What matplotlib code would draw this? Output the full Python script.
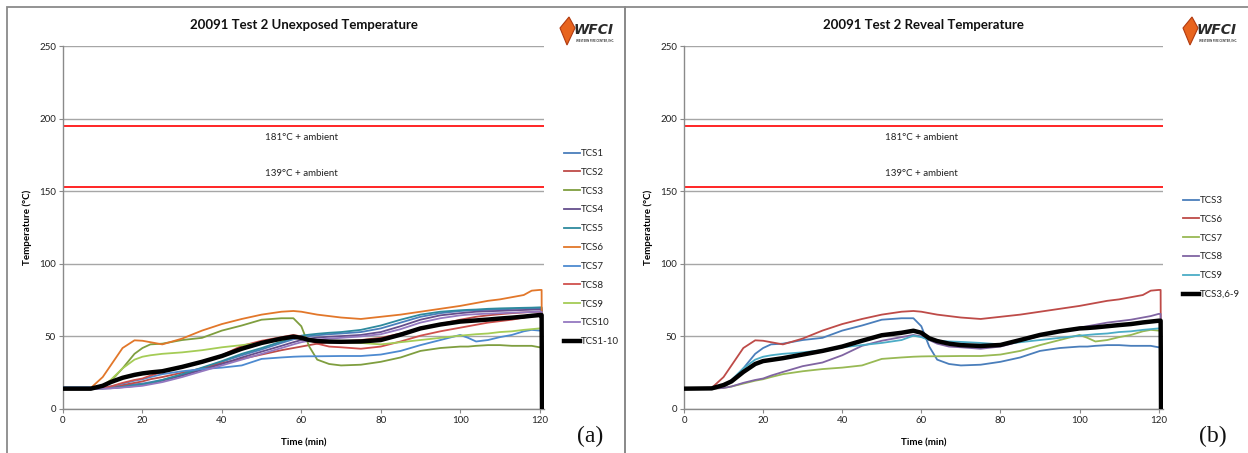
import matplotlib
matplotlib.use("Agg")
import matplotlib.pyplot as plt
from matplotlib.patches import Rectangle, Polygon

plt.rcParams['font.family'] = ['Lato', 'DejaVu Sans']

# ---------------- data ----------------
time_min = [0, 7, 10, 12, 15, 18, 20, 22, 25, 30, 35, 40, 45, 50, 55, 58, 60, 62, 64, 67, 70,
            75, 80, 85, 90, 95, 100, 102, 104, 107, 110, 113, 116, 118, 120, 120.5, 120.6]

tcs1 = [15, 15, 15.2, 15.4, 16, 17, 17.5, 18.5, 20, 23.5, 28, 32.5, 37, 41, 45.5, 48, 49.5, 50.2, 50.8, 51.5, 52,
        53, 55.5, 59.5, 63.5, 66, 67.5, 67.8, 68, 68.3, 68.6, 68.9, 69.2, 69.4, 69.5, 69.5, 0]
tcs2 = [14, 14, 14.3, 15, 16.5, 18, 19, 20.5, 22, 25, 28, 31.5, 34.5, 37.5, 40.5, 42, 43, 44, 45, 46, 46.5,
        47.5, 49, 52, 55.5, 58.5, 61.5, 62.5, 63.5, 64.5, 65.3, 66, 66.5, 66.8, 67, 67, 0]
tcs3 = [14, 14, 15, 19, 28, 38, 42, 44.5, 45, 47.5, 49, 54, 57.5, 61.5, 62.5, 62.5, 57, 43, 34, 31, 30,
        30.5, 32.5, 35.5, 40, 42, 43, 43, 43.5, 44, 44, 43.5, 43.5, 43.5, 42.5, 43, 0]
tcs4 = [14, 14, 14.1, 14.3, 15, 15.8, 16.5, 17.5, 19.5, 23, 27, 31, 35.5, 39.5, 43.5, 46, 47.5, 48.5, 49.2, 49.8, 50.2,
        51, 53, 57, 61.5, 64.5, 66, 66.5, 67, 67.3, 67.6, 67.9, 68.2, 68.4, 68.5, 68.5, 0]
tcs5 = [14, 14, 14.2, 14.5, 15.2, 16.2, 17, 18, 20, 24, 28.5, 33, 38, 42, 46.5, 49, 50.5, 51.2, 51.8, 52.5, 53,
        54.5, 57.5, 61.5, 65, 67, 68, 68.3, 68.5, 69, 69.3, 69.5, 69.7, 69.8, 70, 70, 0]
tcs6 = [14, 14.5, 22, 30, 42, 47.3, 47, 46, 44.5, 48.5, 54, 58.5, 62, 65, 67, 67.5, 67, 66, 65, 64, 63,
        62, 63.5, 65, 67, 69, 71, 72, 73, 74.5, 75.5, 77, 78.5, 81.5, 82, 82, 0]
tcs7 = [14, 14, 14.5, 15.5, 17.5, 19.5, 20.5, 22, 24, 26, 27.5, 28.5, 30, 34.5, 35.5, 36, 36.2, 36.3, 36.3, 36.4, 36.5,
        36.5, 37.5, 40, 44, 47.5, 51, 49, 46.5, 47.5, 49.5, 51, 53.5, 54.5, 54, 54.5, 0]
tcs8 = [14, 14, 14.5, 15.5, 18, 20, 21, 23, 25.5, 29.5, 32, 37, 43.5, 47, 49.5, 51, 50, 47.5, 45, 43, 42.5,
        41.5, 43, 46.5, 50.5, 53.5, 56, 57, 58, 59.5, 60.5, 61.5, 63, 64, 65.5, 65.5, 0]
tcs9 = [14, 14, 16, 20, 28, 34, 36, 37, 38, 39, 40.5, 42.5, 44, 45.5, 47.5, 50.5, 49.5, 47.5, 47, 46.5, 46.2,
        45.5, 44.5, 46, 47.5, 49, 50.5, 51, 51.5, 52, 53, 53.5, 54.5, 55, 55.5, 55.5, 0]
tcs10 = [14, 14, 14.1, 14.2, 14.8, 15.5, 16, 17, 18.5, 22, 26, 30, 34, 38, 42, 44.5, 46, 47, 47.8, 48.5, 49,
         50, 51.5, 55, 59.5, 62.5, 64.5, 65, 65.3, 65.7, 66, 66.3, 66.6, 66.8, 67, 67, 0]
avg_1_10 = [14, 14, 16, 18.5, 21.5, 23.5, 24.5, 25.2, 26, 29, 32.5, 36.5, 41.5, 45.5, 48.5, 49.8, 49, 47.5, 46.8, 46.4, 46.3,
            46.5, 47.5, 51.2, 55.5, 58.2, 60.2, 60.6, 61, 61.6, 62.3, 62.9, 63.6, 64.2, 64.7, 64.7, 0]
avg_3_6_9 = [14, 14.2, 16.5, 19, 25.5, 31, 33, 33.8, 35, 37.5, 40, 43, 47, 50.8, 52.5, 53.9, 52.5, 48.7, 46.8, 45, 44,
             43.4, 44.1, 47.5, 51, 53.5, 55.5, 55.8, 56.2, 57, 57.8, 58.5, 59.6, 60.2, 60.8, 60.8, 0]

limit_181 = 195
limit_139 = 153

left_labels = ['TCS1', 'TCS2', 'TCS3', 'TCS4', 'TCS5', 'TCS6', 'TCS7', 'TCS8', 'TCS9', 'TCS10', 'TCS1-10']
left_series = [tcs1, tcs2, tcs3, tcs4, tcs5, tcs6, tcs7, tcs8, tcs9, tcs10, avg_1_10]
left_colors = ['#4A7EBB', '#BE4B48', '#7F9E3F', '#654E8C', '#2E8A9E', '#E2772A',
               '#4D8AD0', '#D0504D', '#A5CC56', '#9478C0', '#000000']

right_labels = ['TCS3', 'TCS6', 'TCS7', 'TCS8', 'TCS9', 'TCS3,6-9']
right_series = [tcs3, tcs6, tcs7, tcs8, tcs9, avg_3_6_9]
right_colors = ['#4A7EBB', '#BE4B48', '#98B954', '#8064A2', '#4BACC6', '#000000']

W, H = 1248, 453
fig = plt.figure(figsize=(W / 100, H / 100), dpi=100)

# panel frames
for x0, x1 in [(7, 625), (625, 1252)]:
    fig.add_artist(Rectangle((x0 / W, -0.02), (x1 - x0) / W, 1.02 - 7 / H,
                             transform=fig.transFigure, fill=False,
                             edgecolor='#8a8a8a', lw=1.3))


def draw_panel(ax_px_left, ax_px_width, title, labels, series, colors, leg_xy, tag, tag_x, logo_x):
    ax = fig.add_axes([ax_px_left / W, 1 - 409 / H, ax_px_width / W, 363 / H])
    ax.set_xlim(0, 121.1)
    ax.set_ylim(0, 250)
    ax.set_yticks([0, 50, 100, 150, 200, 250])
    ax.set_xticks([0, 20, 40, 60, 80, 100, 120])
    ax.grid(axis='y', color='#a6a6a6', lw=1.0)
    ax.set_axisbelow(True)
    for s in ['top', 'right']:
        ax.spines[s].set_visible(False)
    for s in ['left', 'bottom']:
        ax.spines[s].set_color('#8a8a8a')
        ax.spines[s].set_linewidth(1.0)
    ax.tick_params(axis='both', direction='out', length=3, color='#8a8a8a',
                   labelsize=7, pad=2, labelcolor='#222222')

    ax.axhline(limit_181, color='#ff0000', lw=1.2, zorder=2)
    ax.axhline(limit_139, color='#ff0000', lw=1.2, zorder=2)
    ax.text(60, 187, '181°C + ambient', ha='center', va='center', fontsize=7, color='#222222')
    ax.text(60, 162, '139°C + ambient', ha='center', va='center', fontsize=7, color='#222222')

    handles = []
    for lab, ys, c in zip(labels, series, colors):
        is_avg = c == '#000000'
        h, = ax.plot(time_min, ys, color=c, lw=3.2 if is_avg else 1.3,
                     label=lab, zorder=5 if is_avg else 3, solid_joinstyle='round')
        handles.append(h)

    ax.set_title(title, fontsize=9.5, fontweight='bold', pad=0, y=(409 - 25) / 363,
                 va='center', color='#111111')
    ax.set_ylabel('Temperature (°C)', fontsize=7, fontweight='bold')
    ax.yaxis.set_label_coords(-31 / ax_px_width, 0.5)
    ax.set_xlabel('Time (min)', fontsize=7, fontweight='bold')
    ax.xaxis.set_label_coords(0.5, -(438 - 409) / 363)

    leg = ax.legend(handles=handles, loc='upper left',
                    bbox_to_anchor=(leg_xy[0] / W, 1 - leg_xy[1] / H),
                    bbox_transform=fig.transFigure, frameon=False, fontsize=7,
                    handlelength=1.6, handletextpad=0.1, labelspacing=1.01,
                    borderpad=0, borderaxespad=0)
    for t in leg.get_texts():
        t.set_color('#222222')

    fig.text(tag_x / W, 1 - 436 / H, tag, ha='center', va='center', fontsize=17,
             family=['Liberation Serif', 'DejaVu Serif'], color='#111111')

    # small company logo
    lx = logo_x / W
    fig.add_artist(Polygon([(lx, 1 - 28 / H), (lx + 9 / W, 1 - 17 / H), (lx + 15 / W, 1 - 28 / H),
                            (lx + 7 / W, 1 - 45 / H)], closed=True, transform=fig.transFigure,
                           facecolor='#E8641E', edgecolor='#B03A10', lw=0.8))
    fig.text(lx + 14 / W, 1 - 30 / H, 'WFCI', fontsize=10, fontweight='bold', fontstyle='italic',
             color='#2a2a2a', ha='left', va='center', family=['DejaVu Sans'])
    fig.text(lx + 16 / W, 1 - 40 / H, 'WESTERN FIRE CENTER, INC.', fontsize=2, fontweight='bold',
             color='#2a2a2a', ha='left', va='center')
    return ax


draw_panel(63, 481, '20091 Test 2 Unexposed Temperature', left_labels, left_series, left_colors,
           (564, 149), '(a)', 590, 560)
draw_panel(684, 479, '20091 Test 2 Reveal Temperature', right_labels, right_series, right_colors,
           (1183, 196), '(b)', 1213, 1183)

fig.savefig('out.png', dpi=100)
